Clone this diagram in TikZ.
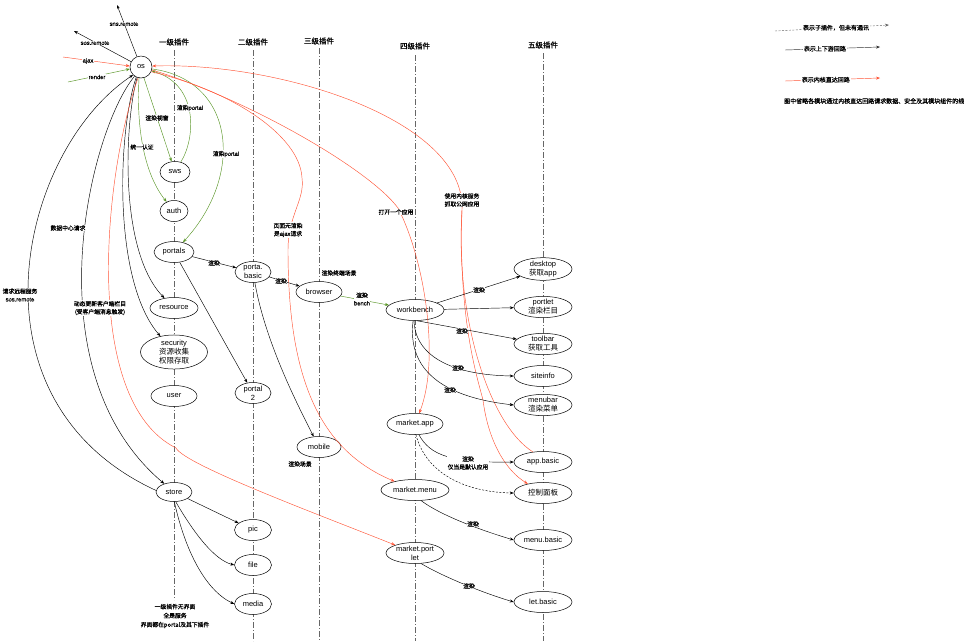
\documentclass[tikz,border=0pt]{standalone}
\usepackage{fontspec}
\setmainfont{Liberation Sans}
\newfontfamily\cjk{Noto Sans CJK SC}
\newfontfamily\cjkheavy{Noto Sans CJK SC}[FakeBold=0.8]
\newfontfamily\latheavy{Liberation Sans}[FakeBold=0.6]
\newcommand\zhs[1]{{\cjk #1}}
\usetikzlibrary{shapes.geometric,arrows.meta}
\definecolor{kernred}{RGB}{255,85,55}
\definecolor{loopgreen}{RGB}{90,150,40}

\begin{document}
\begin{tikzpicture}[
  x=1pt, y=-1pt,
  every node/.style={inner sep=1pt},
  plug/.style={ellipse, draw, fill=white, line width=0.5pt, inner sep=0pt,
    minimum width=58pt, minimum height=21pt, align=center,
    font=\fontsize{7.5}{9}\selectfont},
  lane/.style={draw=black!60, line width=0.5pt,
    dash pattern=on 6pt off 2pt on 1pt off 2pt},
  head/.style={font=\fontsize{7.5}{9}\selectfont\cjkheavy},
  lbl/.style={fill=white, inner sep=0.5pt, align=center,
    font=\fontsize{5.8}{8}\selectfont\latheavy\let\cjk\cjkheavy},
  lgd/.style={fill=white, inner sep=1pt, font=\fontsize{6}{7}\selectfont\cjkheavy},
  % the three kinds of loop: black up/down, green up/down, red kernel-direct
  arrow/.style={draw, line width=0.45pt, -{Stealth[length=4pt,width=3pt]}},
  garrow/.style={arrow, draw=loopgreen},
  rarrow/.style={arrow, draw=kernred},
  rline/.style={draw=kernred, line width=0.45pt},
  darrow/.style={arrow, dash pattern=on 2pt off 1.5pt}]

  \useasboundingbox (0,0) rectangle (964,641);

  % plugin levels
  \foreach \x/\top/\bot in {174/50/600, 253/50/641, 319/48/641, 415/55/641, 543/53/641}
    \draw[lane] (\x,\top) -- (\x,\bot);
  \node[head] (h1) at (174,42) {一级插件};
  \node[head] (h2) at (253,42) {二级插件};
  \node[head] (h3) at (319,41) {三级插件};
  \node[head] (h4) at (415,46) {四级插件};
  \node[head] (h5) at (543,45) {五级插件};

  % vertices
  \node[plug, minimum width=22pt, minimum height=22pt] (os) at (141,67) {os};
  \node[plug, minimum width=30pt] (sws)      at (175,172) {sws};
  \node[plug, minimum width=28pt] (auth)     at (174,211) {auth};
  \node[plug, minimum width=40pt] (portals)  at (174,252) {portals};
  \node[plug, minimum width=48pt] (resource) at (174,308) {resource};
  \node[plug, minimum width=67pt] (security) at (174,352) {security\\\zhs{资源收集}\\\zhs{权限存取}};
  \node[plug, minimum width=46pt] (user)     at (174,396) {user};
  \node[plug, minimum width=36pt, minimum height=19pt] (store) at (174,492) {store};

  \node[plug, minimum width=36pt] (pbasic)  at (253,272) {porta.\\basic};
  \node[plug, minimum width=36pt] (portal2) at (253,393) {portal\\2};
  \node[plug, minimum width=37pt] (pic)     at (253,530) {pic};
  \node[plug, minimum width=37pt] (file)    at (253,565) {file};
  \node[plug, minimum width=37pt] (media)   at (253,604) {media};

  \node[plug, minimum width=46pt] (browser) at (319,292) {browser};
  \node[plug, minimum width=44pt] (mobile)  at (319,447) {mobile};

  \node[plug]                     (wb)       at (415,310) {workbench};
  \node[plug, minimum width=56pt] (mapp)     at (415,424) {market.app};
  \node[plug, minimum width=68pt] (mmenu)    at (415,490) {market.menu};
  \node[plug]                     (mportlet) at (415,553) {market.port\\let};

  \node[plug] (desktop)   at (543,269) {desktop\\\zhs{获取}app};
  \node[plug] (portlet)   at (543,307) {portlet\\\zhs{渲染栏目}};
  \node[plug] (toolbar)   at (543,344) {toolbar\\\zhs{获取工具}};
  \node[plug] (siteinfo)  at (543,376) {siteinfo};
  \node[plug] (menubar)   at (543,405) {menubar\\\zhs{渲染菜单}};
  \node[plug] (appbasic)  at (543,462) {app.basic};
  \node[plug] (ctrl)      at (543,493) {\zhs{控制面板}};
  \node[plug] (menubasic) at (543,540) {menu.basic};
  \node[plug] (letbasic)  at (543,602) {let.basic};

  % free ends round os
  \coordinate (snsend)    at (117,5);
  \coordinate (sosend)    at (74,31);
  \coordinate (ajaxsrc)   at (63,57);
  \coordinate (rendersrc) at (68,82);

  % arrows
  \draw[arrow]  (os) -- (snsend);
  \draw[arrow]  (os) -- (sosend);
  \draw[rarrow] (ajaxsrc) -- (os.175);
  \draw[garrow] (rendersrc) -- (os.190);

  \draw[garrow] (os.-75) -- (sws);
  \draw[garrow] (sws.60) .. controls (195,140) and (200,85) .. (os.-20);
  \draw[garrow] (os.-100) .. controls (136,130) and (145,175) .. (auth);
  \draw[garrow] (os.-10) .. controls (235,80) and (245,175) .. (portals);

  \draw[arrow] (os.-110) .. controls (125,120) and (118,250) .. (resource);
  \draw[arrow] (os.-115) .. controls (118,130) and (112,280) .. (security);
  \draw[arrow] (os.-125) .. controls (90,130) and (30,370) .. (store);
  \draw[arrow] (store.175) .. controls (-40,400) and (20,150) .. (os.-135);

  \draw[rline] (os.-105) .. controls (105,170) and (80,400) .. (176,448);
  \draw[rarrow] (176,448) .. controls (185,465) and (320,515) .. (mportlet);
  \draw[rarrow] (os.-25) .. controls (230,90) and (300,135) .. (302,178)
    .. controls (305,200) and (288,215) .. (288,250)
    .. controls (288,380) and (320,450) .. (mmenu);
  \draw[rarrow] (os.-15) .. controls (250,100) and (370,170) .. (398,208)
    .. controls (425,260) and (440,360) .. (mapp);
  \draw[rarrow] (appbasic.135) .. controls (490,425) and (455,320) .. (462,210)
    .. controls (466,120) and (280,62) .. (os.5);
  \draw[rarrow] (462,210) .. controls (458,320) and (478,380) .. (483,400)
    .. controls (488,440) and (505,470) .. (ctrl);

  \draw[arrow]  (portals) -- (pbasic);
  \draw[arrow]  (portals) -- (portal2);
  \draw[arrow]  (pbasic) -- (browser);
  \draw[arrow]  (pbasic.-80) .. controls (265,340) and (295,400) .. (mobile);
  \draw[garrow] (browser) -- (wb);

  \draw[arrow] (wb) -- (desktop);
  \draw[arrow] (wb) -- (portlet);
  \draw[arrow] (wb.-80) -- (toolbar);
  \draw[arrow] (wb.-95) .. controls (415,355) and (450,375) .. (siteinfo.west);
  \draw[arrow] (wb.-100) .. controls (405,385) and (470,400) .. (menubar.west);

  \draw[arrow]  (mapp.-70) .. controls (430,455) and (450,463) .. (appbasic.west);
  \draw[darrow] (mapp.-85) .. controls (425,470) and (460,492) .. (ctrl.west);
  \draw[arrow]  (mmenu.-60) .. controls (440,515) and (480,530) .. (menubasic.west);
  \draw[arrow]  (mportlet.-60) .. controls (440,575) and (480,592) .. (letbasic.west);

  \draw[arrow] (store) -- (pic);
  \draw[arrow] (store.-80) .. controls (195,535) and (215,560) .. (file.west);
  \draw[arrow] (store.-88) .. controls (185,550) and (205,590) .. (media.west);

  % labels printed inside the picture
  \node[lbl] (lsns)    at (124,24)  {sns.remote};
  \node[lbl] (lsos)    at (95,43)   {sos.remote};
  \node[lbl] (lajax)   at (88,61)   {ajax};
  \node[lbl] (lrender) at (97,77)   {render};
  \node[lbl] (lview)   at (157,118) {\zhs{渲染视窗}};
  \node[lbl] (lport1)  at (190,108) {\zhs{渲染}portal};
  \node[lbl] (lauth)   at (142,147) {\zhs{统一认证}};
  \node[lbl] (lport2)  at (226,154) {\zhs{渲染}portal};
  \node[lbl] (ldata)   at (68,228)  {\zhs{数据中心请求}};
  \node[lbl] (lremote) at (20,295)  {\zhs{请求远程服务}\\sos.remote};
  \node[lbl] (lupdate) at (100,308) {\zhs{动态更新客户端栏目}\\\zhs{(受客户端消息触发)}};
  \node[lbl] (lajaxreq) at (288,230) {\zhs{页面无渲染}\\\zhs{是}ajax\zhs{请求}};
  \node[lbl] (lopen)   at (396,212) {\zhs{打开一个应用}};
  \node[lbl] (lkernel) at (462,200) {\zhs{使用内核服务}\\\zhs{抓取公网应用}};
  \node[lbl] (lr1)     at (214,263) {\zhs{渲染}};
  \node[lbl] (lr2)     at (281,281) {\zhs{渲染}};
  \node[lbl] (lscene)  at (339,273) {\zhs{渲染终端场景}};
  \node[lbl] (lbench)  at (362,299) {\zhs{渲染}\\bench};
  \node[lbl] (lmobile) at (300,464) {\zhs{渲染场景}};
  \node[lbl] (lr3)     at (479,290) {\zhs{渲染}};
  \node[lbl] (lr4)     at (462,331) {\zhs{渲染}};
  \node[lbl] (lr5)     at (458,368) {\zhs{渲染}};
  \node[lbl] (lr6)     at (450,390) {\zhs{渲染}};
  \node[lbl] (ldefault) at (468,463) {\zhs{渲染}\\\zhs{仅当是默认应用}};
  \node[lbl] (lr7)     at (473,524) {\zhs{渲染}};
  \node[lbl] (lr8)     at (469,586) {\zhs{渲染}};
  \node[lbl, font=\fontsize{5.8}{9}\selectfont\cjkheavy] (lnoui) at (175,616)
    {一级插件无界面\\全是服务\\界面都在portal及其下插件};

  % legend
  \coordinate (subA)  at (775,31);  \coordinate (subB)  at (889,25);
  \coordinate (loopA) at (785,50);  \coordinate (loopB) at (880,47);
  \coordinate (kernA) at (785,81);  \coordinate (kernB) at (880,78);
  \draw[darrow, draw=black!60] (subA) -- node[lgd, pos=0.535] (subtxt) {表示子插件，但未有通讯} (subB);
  \draw[arrow, draw=black!80] (loopA) -- node[lgd, pos=0.42] (looptxt) {表示上下游回路} (loopB);
  \draw[rarrow] (kernA) -- node[lgd, pos=0.43] (kerntxt) {表示内核直达回路} (kernB);
  \node[lgd, anchor=west] (note) at (783,101) {图中省略各模块通过内核直达回路请求数据、安全及其模块组件的线};
\end{tikzpicture}
\end{document}
